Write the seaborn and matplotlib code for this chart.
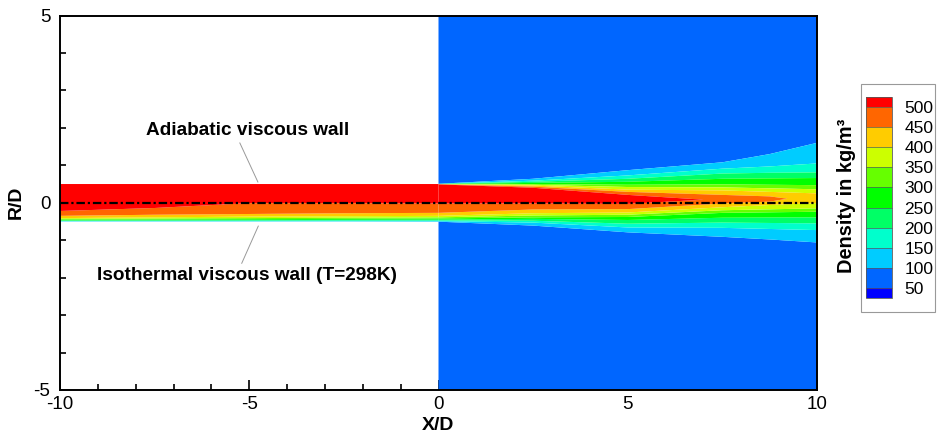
import numpy as np
import pandas as pd
import matplotlib
matplotlib.use("Agg")
import matplotlib.pyplot as plt
from matplotlib.colors import ListedColormap, BoundaryNorm
from matplotlib.patches import Rectangle
from matplotlib.ticker import MultipleLocator
import seaborn as sns

# ---------------------------------------------------------------------------
# Density contour levels (kg/m^3) and the fill colour of every band
# ---------------------------------------------------------------------------
LEVELS = [50, 100, 150, 200, 250, 300, 350, 400, 450, 500]
BAND_COLORS = ["#0066FF", "#00CCFF", "#00FFCC", "#00FF66", "#00FF00",
               "#66FF00", "#CCFF00", "#FFCC00", "#FF6600"]
BELOW_COLOR = "#0000FF"
ABOVE_COLOR = "#FF0000"

# Iso-density radii (R/D) are given for these levels, 100 -> 500
PROFILE_LEVELS = [100, 150, 200, 250, 300, 350, 400, 450, 500]

# ---------------------------------------------------------------------------
# Free jet, X/D >= 0 (nan: level not reached at that station)
# ---------------------------------------------------------------------------
JET_X = [0.0, 2.5, 5.0, 7.5, 8.75, 10.0]
JET_UPPER_R = [
    [0.506, 0.504, 0.502, 0.500, 0.498, 0.496, 0.494, 0.492, 0.490],
    [0.64, 0.59, 0.56, 0.53, 0.50, 0.48, 0.46, 0.43, 0.40],
    [0.87, 0.73, 0.64, 0.56, 0.48, 0.42, 0.35, 0.29, 0.21],
    [1.08, 0.91, 0.78, 0.64, 0.49, 0.41, 0.33, 0.21, np.nan],
    [1.30, 0.97, 0.80, 0.65, 0.48, 0.385, 0.29, 0.17, np.nan],
    [1.60, 1.05, 0.81, 0.66, 0.47, 0.36, 0.25, np.nan, np.nan],
]
JET_LOWER_R = [
    [-0.505, -0.49, -0.47, -0.45, -0.42, -0.39, -0.35, -0.27, -0.02],
    [-0.61, -0.53, -0.48, -0.43, -0.39, -0.34, -0.28, -0.18, -0.02],
    [-0.79, -0.66, -0.56, -0.46, -0.38, -0.32, -0.26, -0.17, -0.03],
    [-0.91, -0.67, -0.53, -0.40, -0.27, -0.20, -0.12, -0.02, np.nan],
    [-0.98, -0.70, -0.54, -0.395, -0.255, -0.175, -0.06, 0.03, np.nan],
    [-1.06, -0.73, -0.55, -0.39, -0.24, -0.15, -0.01, np.nan, np.nan],
]
JET_PEAK_R = [0.25, 0.20, 0.09, 0.08, 0.10, 0.12]
JET_PEAK_RHO = [530, 530, 520, 495, 462, 430]
AMBIENT_RHO = 80
DOMAIN_R = 5.0

# ---------------------------------------------------------------------------
# Pipe flow, X/D < 0 (wall at R/D = +-0.5)
# ---------------------------------------------------------------------------
PIPE_X = [-10.0, -7.5, -5.0, -2.5, 0.0]
PIPE_LOWER_R = [
    [-0.50, -0.49, -0.48, -0.47, -0.45, -0.43, -0.41, -0.35, -0.22],
    [-0.50, -0.49, -0.48, -0.465, -0.445, -0.42, -0.39, -0.32, -0.14],
    [-0.50, -0.49, -0.475, -0.46, -0.44, -0.41, -0.37, -0.30, -0.01],
    [-0.50, -0.49, -0.47, -0.455, -0.43, -0.40, -0.36, -0.28, -0.01],
    [-0.505, -0.49, -0.47, -0.45, -0.42, -0.39, -0.35, -0.27, -0.02],
]
PIPE_CORE_R = 0.25
PIPE_CORE_RHO = 530
PIPE_WALL_R = 0.5


def jet_grid():
    """Curvilinear grid: one column per station, rows ordered by radius."""
    xs, rs, zs = [], [], []
    for i, x in enumerate(JET_X):
        col_r, col_z = [-DOMAIN_R], [AMBIENT_RHO]
        for lvl, r in zip(PROFILE_LEVELS, JET_LOWER_R[i]):
            if np.isnan(r):
                col_r.append(JET_PEAK_R[i]); col_z.append(JET_PEAK_RHO[i])
            else:
                col_r.append(r); col_z.append(lvl)
        col_r.append(JET_PEAK_R[i]); col_z.append(JET_PEAK_RHO[i])
        for lvl, r in reversed(list(zip(PROFILE_LEVELS, JET_UPPER_R[i]))):
            if np.isnan(r):
                col_r.append(JET_PEAK_R[i]); col_z.append(JET_PEAK_RHO[i])
            else:
                col_r.append(r); col_z.append(lvl)
        col_r.append(DOMAIN_R); col_z.append(AMBIENT_RHO)
        xs.append([x] * len(col_r)); rs.append(col_r); zs.append(col_z)
    return np.array(xs).T, np.array(rs).T, np.array(zs, dtype=float).T


def pipe_grid():
    xs, rs, zs = [], [], []
    for i, x in enumerate(PIPE_X):
        col_r = list(PIPE_LOWER_R[i]) + [PIPE_CORE_R, PIPE_WALL_R]
        col_z = list(PROFILE_LEVELS) + [PIPE_CORE_RHO, PIPE_CORE_RHO]
        xs.append([x] * len(col_r)); rs.append(col_r); zs.append(col_z)
    return np.array(xs).T, np.array(rs).T, np.array(zs, dtype=float).T


sns.set_style("ticks")
plt.rcParams["font.family"] = ["Liberation Sans", "DejaVu Sans"]
plt.rcParams["axes.unicode_minus"] = False
for key in ("text.color", "axes.labelcolor", "xtick.color", "ytick.color",
            "axes.edgecolor"):
    plt.rcParams[key] = "black"

W, H = 939, 433
fig = plt.figure(figsize=(W / 100, H / 100), dpi=100)
ax = fig.add_axes([60 / W, 43 / H, 757 / W, 374.5 / H])

cmap = ListedColormap(BAND_COLORS)
cmap.set_under(BELOW_COLOR)
cmap.set_over(ABOVE_COLOR)
norm = BoundaryNorm(LEVELS, cmap.N)

Xj, Rj, Zj = jet_grid()
cs = ax.contourf(Xj, Rj, Zj, levels=LEVELS, cmap=cmap, norm=norm,
                 extend="both", antialiased=True)
Xp, Rp, Zp = pipe_grid()
ax.contourf(Xp, Rp, Zp, levels=LEVELS, cmap=cmap, norm=norm,
            extend="both", antialiased=True)

# Jet axis
axis_df = pd.DataFrame({"x": [-10.0, 10.0], "r": [0.0, 0.0]})
sns.lineplot(data=axis_df, x="x", y="r", ax=ax, color="black", lw=1.6,
             linestyle=(0, (3.8, 1.3, 1.0, 1.3)), zorder=5)

ax.set_xlim(-10, 10)
ax.set_ylim(-5, 5)
ax.set_xticks([-10, -5, 0, 5, 10])
ax.set_yticks([-5, 0, 5])
ax.xaxis.set_minor_locator(MultipleLocator(1))
ax.yaxis.set_minor_locator(MultipleLocator(1))
ax.tick_params(which="both", direction="in", top=False, right=False,
               labelsize=13.5, width=1.2, colors="black")
ax.tick_params(which="major", length=7)
ax.tick_params(which="minor", length=4)
ax.tick_params(axis="x", pad=4)
ax.tick_params(axis="y", pad=7)
for s in ax.spines.values():
    s.set_linewidth(1.4)
    s.set_edgecolor("black")
    s.set_zorder(6)
ax.set_xlabel("X/D", fontsize=14, fontweight="bold", labelpad=3)
ax.set_ylabel("R/D", fontsize=14, fontweight="bold", labelpad=6)

# Wall annotations
ax.text(-5.03, 1.92, "Adiabatic viscous wall", ha="center", va="center",
        fontsize=13.7, fontweight="bold")
ax.plot([-5.25, -4.77], [1.60, 0.55], color="0.6", lw=0.7, zorder=4)
ax.text(-5.07, -1.95, "Isothermal viscous wall (T=298K)", ha="center",
        va="center", fontsize=13.7, fontweight="bold")
ax.plot([-5.20, -4.76], [-1.62, -0.62], color="0.6", lw=0.7, zorder=4)

# Legend box with colour bar
fig.patches.append(Rectangle((861 / W, (H - 312) / H), 74 / W, 228 / H,
                             transform=fig.transFigure, fill=False,
                             edgecolor="0.6", lw=0.8))
cax = fig.add_axes([866 / W, (H - 298) / H, 26 / W, 201 / H])
cb = fig.colorbar(cs, cax=cax, extend="both", extendrect=True,
                  extendfrac=1 / 18, drawedges=True, ticks=LEVELS[::-1])
cb.outline.set_linewidth(0.6)
cb.outline.set_edgecolor("0.35")
cb.dividers.set_color("0.35")
cb.dividers.set_linewidth(0.5)
cax.tick_params(length=0, pad=9, labelsize=12.5, colors="black")
fig.text(847 / W, (H - 196) / H, "Density in kg/m³", rotation=90,
         ha="center", va="center", fontsize=14.4, fontweight="bold")

fig.savefig("out.png", dpi=100)
